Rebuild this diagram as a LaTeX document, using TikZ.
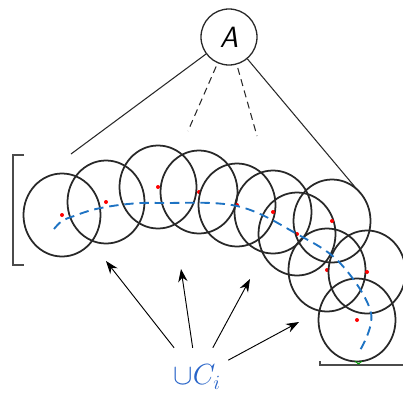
\documentclass[tikz,border=0pt]{standalone}
\usepackage{amsmath}
\usepackage{tikz}
\usetikzlibrary{arrows.meta}
\definecolor{UCBlue}{RGB}{40,100,200}
\definecolor{PathBlue}{RGB}{30,115,195}
\definecolor{RingGray}{RGB}{40,40,40}
\definecolor{FrameGray}{RGB}{75,75,75}

\begin{document}
\begin{tikzpicture}[>={Stealth[length=11pt,width=8pt]},x=0.03cm,y=-0.03cm,
    ring/.style={draw=RingGray,line width=1.5pt},
    centre/.style={fill=red},
    branch/.style={draw=RingGray,line width=0.9pt},
    frame/.style={draw=FrameGray,line width=1.4pt}]
      \useasboundingbox (0,0) rectangle (403,393);
      % covering discs along the path
      \foreach \x/\y [count=\i] in {62/215,106/202,158/187,199/192,237/205,273/212,297/234,332/221,327/270,367/272,357/320}{
        \coordinate (c\i) at (\x,\y);
        \draw[ring] (c\i) ellipse [x radius=38.5,y radius=41.5];
        \fill[centre] (c\i) circle [radius=2];
      }
      \draw[PathBlue,line width=1.6pt,dash pattern=on 8pt off 5pt] plot[smooth,tension=0.6] coordinates {(54,229) (62,221) (74,216) (96,209) (128,204) (160,203) (237,206) (297,234) (340,263) (371,313) (359,352)};
      \draw[frame] (24,155) -- (13,155) -- (13,265) -- (24,265);
      \draw[frame] (320,361) -- (320,365) -- (403,365);
      \draw[green!60!black,line width=0.8pt] (355,361) -- (358.5,364) -- (362,361);
      % root node and its branches
      \node[draw=RingGray,circle,line width=1.1pt,minimum size=1.68cm,inner sep=0pt,font=\fontsize{25}{30}\selectfont\sffamily\itshape] (A) at (229,37) {A};
      \coordinate (bl) at (71,154);
      \coordinate (dl) at (188,131);
      \coordinate (dr) at (257,136);
      \coordinate (br) at (360,193);
      \draw[branch] (A) -- (bl);
      \draw[branch,dashed,dash pattern=on 6pt off 4pt,shorten <=3pt] (A) -- (dl);
      \draw[branch,dashed,dash pattern=on 6pt off 4pt,shorten <=3pt] (A) -- (dr);
      \draw[branch] (A) -- (br);
      % union label
      \node[minimum width=1.86cm,minimum height=1.74cm,text=UCBlue,font=\fontsize{25}{30}\selectfont] (uc) at (197,377) {$\cup C_i$};
      \coordinate (t1) at (106,261);
      \coordinate (t2) at (181,269);
      \coordinate (t3) at (250,279);
      \coordinate (t4) at (299,322);
      \foreach \t in {t1,t2,t3,t4}
        \draw[->,line width=0.8pt] (uc) -- (\t);
    \end{tikzpicture}
\end{document}
